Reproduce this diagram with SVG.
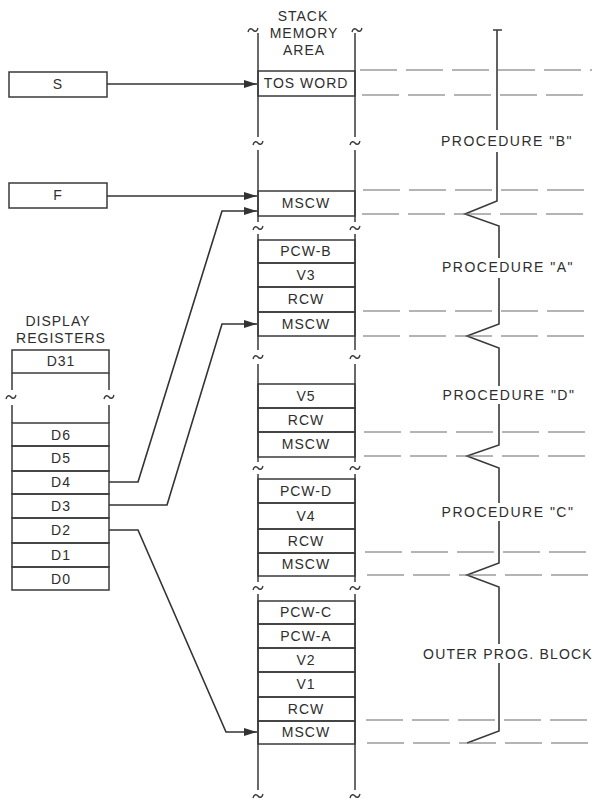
<svg xmlns="http://www.w3.org/2000/svg" xmlns:xlink="http://www.w3.org/1999/xlink" width="594" height="799" viewBox="0 0 594 799">
<style>
  .bg{fill:#fff}
  .box{fill:none;stroke:#3a3a3a;stroke-width:1.5}
  .ln{fill:none;stroke:#3a3a3a;stroke-width:1.5}
  .dash{fill:none;stroke:#6a6a6a;stroke-width:1.2;stroke-dasharray:37 9}
  .br{fill:none;stroke:#3a3a3a;stroke-width:1.6;stroke-linejoin:miter}
  .conn{fill:none;stroke:#333;stroke-width:1.6}
  .t{font-family:"Liberation Sans",Arial,sans-serif;font-size:14px;fill:#2e2e2e;text-anchor:middle;letter-spacing:1px}
  .tp{font-family:"Liberation Sans",Arial,sans-serif;font-size:14px;fill:#2e2e2e;text-anchor:middle;letter-spacing:1.5px}
  .tl{fill:none;stroke:#3a3a3a;stroke-width:1.4}
</style>
<defs>
  <marker id="ah" markerUnits="userSpaceOnUse" markerWidth="14" markerHeight="10" refX="13" refY="4" orient="auto">
    <path d="M0,0 L13,4 L0,8 z" fill="#333"/>
  </marker>
  <path id="tilde" class="tl" d="M-5,2 C-4,-2 -1.5,-2 0,0 C1.5,2 4,2 5,-2"/>
</defs>
<rect class="bg" x="0" y="0" width="594" height="799"/>

<!-- Stack header -->
<g id="stack-header">
  <text class="t" x="303" y="21">STACK</text>
  <text class="t" x="304" y="38">MEMORY</text>
  <text class="t" x="304" y="55">AREA</text>
</g>

<!-- Stack column outline -->
<g id="stack-column">
  <path class="ln" d="M258,33 V137 M355,33 V137 M258,150 V222 M355,150 V222 M258,234 V350 M355,234 V350 M258,364 V462 M355,364 V462 M258,474 V582 M355,474 V582 M258,594 V790 M355,594 V790"/>
  <use xlink:href="#tilde" x="253" y="30"/>
  <use xlink:href="#tilde" x="357" y="30"/>
  <use xlink:href="#tilde" x="258" y="143"/>
  <use xlink:href="#tilde" x="355" y="143"/>
  <use xlink:href="#tilde" x="258" y="228"/>
  <use xlink:href="#tilde" x="355" y="228"/>
  <use xlink:href="#tilde" x="258" y="357"/>
  <use xlink:href="#tilde" x="355" y="357"/>
  <use xlink:href="#tilde" x="258" y="468"/>
  <use xlink:href="#tilde" x="355" y="468"/>
  <use xlink:href="#tilde" x="258" y="588"/>
  <use xlink:href="#tilde" x="355" y="588"/>
  <use xlink:href="#tilde" x="258" y="796"/>
  <use xlink:href="#tilde" x="355" y="796"/>
</g>

<!-- S and F registers -->
<g id="reg-S">
  <rect class="box" x="9" y="72" width="98" height="25"/>
  <text class="t" x="58" y="89">S</text>
</g>
<g id="reg-F">
  <rect class="box" x="9" y="183" width="98" height="25"/>
  <text class="t" x="58" y="200">F</text>
</g>

<!-- Stack cells -->
<g id="tos-word">
  <rect class="box" x="258" y="71" width="97" height="25"/>
  <text class="t" x="306" y="88">TOS WORD</text>
</g>
<g id="mscw-b">
  <rect class="box" x="258" y="191" width="97" height="25"/>
  <text class="t" x="306" y="208">MSCW</text>
</g>
<g id="block-a">
  <rect class="box" x="258" y="240" width="97" height="23"/>
  <text class="t" x="306" y="256">PCW-B</text>
  <rect class="box" x="258" y="263" width="97" height="24"/>
  <text class="t" x="306" y="280">V3</text>
  <rect class="box" x="258" y="287" width="97" height="25"/>
  <text class="t" x="306" y="304">RCW</text>
  <rect class="box" x="258" y="312" width="97" height="24"/>
  <text class="t" x="306" y="329">MSCW</text>
</g>
<g id="block-d">
  <rect class="box" x="258" y="384" width="97" height="24"/>
  <text class="t" x="306" y="401">V5</text>
  <rect class="box" x="258" y="408" width="97" height="24"/>
  <text class="t" x="306" y="425">RCW</text>
  <rect class="box" x="258" y="432" width="97" height="25"/>
  <text class="t" x="306" y="449">MSCW</text>
</g>
<g id="block-c">
  <rect class="box" x="258" y="479" width="97" height="24"/>
  <text class="t" x="306" y="496">PCW-D</text>
  <rect class="box" x="258" y="503" width="97" height="26"/>
  <text class="t" x="306" y="521">V4</text>
  <rect class="box" x="258" y="529" width="97" height="24"/>
  <text class="t" x="306" y="546">RCW</text>
  <rect class="box" x="258" y="553" width="97" height="23"/>
  <text class="t" x="306" y="569">MSCW</text>
</g>
<g id="block-outer">
  <rect class="box" x="258" y="601" width="97" height="23"/>
  <text class="t" x="306" y="617">PCW-C</text>
  <rect class="box" x="258" y="624" width="97" height="24"/>
  <text class="t" x="306" y="641">PCW-A</text>
  <rect class="box" x="258" y="648" width="97" height="24"/>
  <text class="t" x="306" y="665">V2</text>
  <rect class="box" x="258" y="672" width="97" height="25"/>
  <text class="t" x="306" y="689">V1</text>
  <rect class="box" x="258" y="697" width="97" height="24"/>
  <text class="t" x="306" y="714">RCW</text>
  <rect class="box" x="258" y="721" width="97" height="23"/>
  <text class="t" x="306" y="737">MSCW</text>
</g>

<!-- Display registers -->
<g id="display-registers">
  <text class="t" x="58" y="326">DISPLAY</text>
  <text class="t" x="61" y="343">REGISTERS</text>
  <rect class="box" x="12" y="350" width="97" height="23"/>
  <text class="t" x="61" y="366">D31</text>
  <path class="ln" d="M12,373 V390 M109,373 V390 M12,405 V423 M109,405 V423"/>
  <use xlink:href="#tilde" x="11" y="397"/>
  <use xlink:href="#tilde" x="109" y="397"/>
  <rect class="box" x="12" y="423" width="97" height="23"/>
  <text class="t" x="61" y="440">D6</text>
  <rect class="box" x="12" y="446" width="97" height="25"/>
  <text class="t" x="61" y="463">D5</text>
  <rect class="box" x="12" y="471" width="97" height="23"/>
  <text class="t" x="61" y="487">D4</text>
  <rect class="box" x="12" y="494" width="97" height="24"/>
  <text class="t" x="61" y="511">D3</text>
  <rect class="box" x="12" y="518" width="97" height="25"/>
  <text class="t" x="61" y="535">D2</text>
  <rect class="box" x="12" y="543" width="97" height="24"/>
  <text class="t" x="61" y="560">D1</text>
  <rect class="box" x="12" y="567" width="97" height="23"/>
  <text class="t" x="61" y="584">D0</text>
</g>

<!-- Procedure braces and labels -->
<g id="procedure-braces">
  <path class="ln" d="M493,30 H502"/>
  <path class="br" d="M497,30 V130"/>
  <path class="br" d="M497,152 V201 L465,214 L499,226 V258"/>
  <path class="br" d="M499,278 V324 L467,336 L499,348 V386"/>
  <path class="br" d="M499,404 V445 L467,456 L499,468 V503"/>
  <path class="br" d="M499,521 V563 L467,575 L499,587 V644"/>
  <path class="br" d="M499,663 V731 L467,743"/>
  <text class="tp" x="507" y="146">PROCEDURE "B"</text>
  <text class="tp" x="508" y="272">PROCEDURE "A"</text>
  <text class="tp" x="509" y="400">PROCEDURE "D"</text>
  <text class="tp" x="508" y="517">PROCEDURE "C"</text>
  <text class="tp" x="508" y="659" style="letter-spacing:1.2px">OUTER PROG. BLOCK</text>
</g>

<!-- Dashed guide lines -->
<g id="guides">
  <path class="dash" d="M360,70 H592 M362,95 H592"/>
  <path class="dash" d="M363,190 H592 M362,214 H592"/>
  <path class="dash" d="M363,311 H592 M363,336 H592"/>
  <path class="dash" d="M364,432 H592 M364,456 H592"/>
  <path class="dash" d="M365,552 H592 M367,575 H592"/>
  <path class="dash" d="M366,720 H592 M367,743 H592"/>
</g>

<!-- Connectors -->
<g id="connectors">
  <path class="conn" marker-end="url(#ah)" d="M107,84 H257"/>
  <path class="conn" marker-end="url(#ah)" d="M107,196 H257"/>
  <path class="conn" marker-end="url(#ah)" d="M109,482 H138 L222,211 H257"/>
  <path class="conn" marker-end="url(#ah)" d="M109,505 H167 L222,324 H257"/>
  <path class="conn" marker-end="url(#ah)" d="M109,530 H138 L226,732 H257"/>
</g>
</svg>
